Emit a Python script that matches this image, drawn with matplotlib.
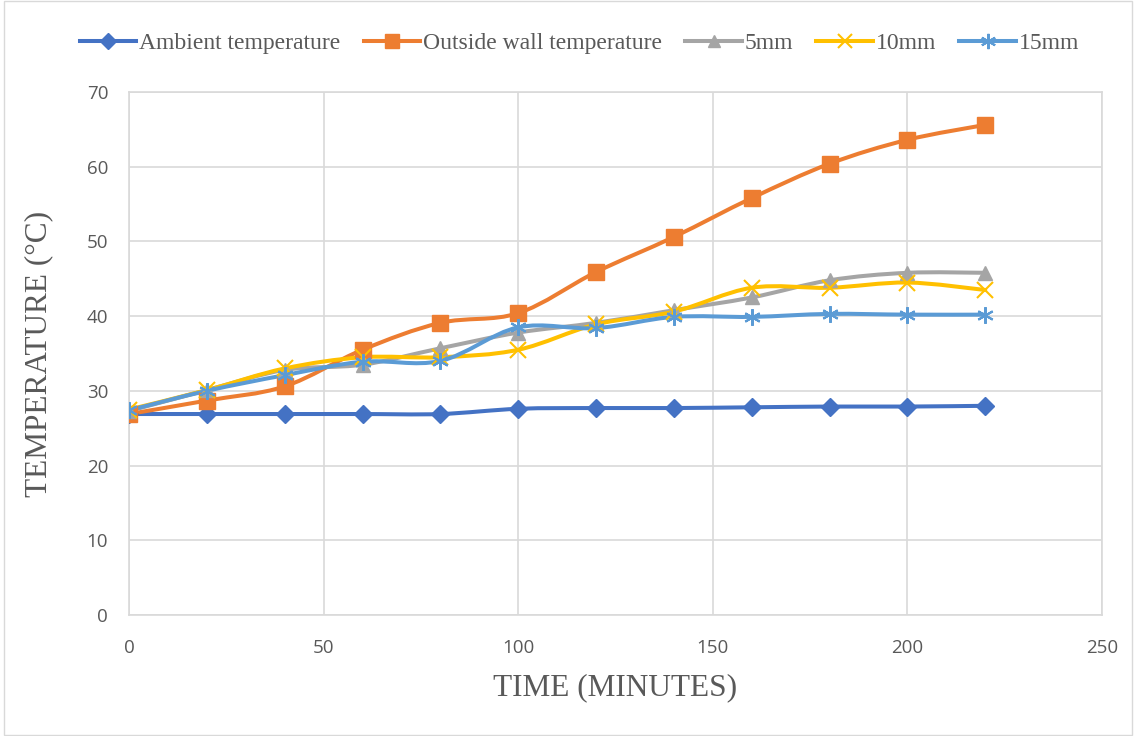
import numpy as np
import matplotlib.pyplot as plt
from matplotlib.path import Path
from matplotlib.patches import PathPatch, Rectangle
from matplotlib.lines import Line2D

# data
minutes = [0, 20, 40, 60, 80, 100, 120, 140, 160, 180, 200, 220]
ambient = [26.9, 26.9, 26.9, 26.9, 26.9, 27.6, 27.7, 27.7, 27.8, 27.9, 27.9, 28.0]
outside_wall = [26.9, 28.7, 30.6, 35.5, 39.1, 40.4, 45.9, 50.6, 55.8, 60.4, 63.6, 65.6]
mm5 = [27.3, 30.1, 32.8, 33.5, 35.7, 37.8, 39.1, 40.8, 42.5, 44.8, 45.8, 45.8]
mm10 = [27.5, 30.1, 33.0, 34.5, 34.5, 35.5, 38.9, 40.6, 43.8, 43.8, 44.5, 43.5]
mm15 = [27.4, 30.0, 32.1, 33.9, 34.0, 38.5, 38.4, 39.9, 39.9, 40.3, 40.2, 40.2]

names = ['Ambient temperature', 'Outside wall temperature', '5mm', '10mm', '15mm']
colors = ['#4472C4', '#ED7D31', '#A5A5A5', '#FFC000', '#5B9BD5']
markers = ['D', 's', '^', 'x', (6, 2, 0)]
msizes = [9, 11, 10, 11, 12]


def smooth_path(xs, ys):
    # Excel-like smoothed line: cubic bezier segments through the points
    pts = np.column_stack([xs, ys]).astype(float)
    verts = [pts[0]]
    codes = [Path.MOVETO]
    n = len(pts)
    for i in range(n - 1):
        p0 = pts[i - 1] if i > 0 else pts[i]
        p1 = pts[i]
        p2 = pts[i + 1]
        p3 = pts[i + 2] if i + 2 < n else pts[i + 1]
        c1 = p1 + (p2 - p0) / 6.0
        c2 = p2 - (p3 - p1) / 6.0
        verts += [c1, c2, p2]
        codes += [Path.CURVE4] * 3
    return Path(verts, codes)


fig = plt.figure(figsize=(11.36, 7.36), dpi=100)
ax = fig.add_axes([129 / 1136, 1 - 615 / 736, (1102 - 129) / 1136, (615 - 92) / 736])

series = [ambient, outside_wall, mm5, mm10, mm15]
handles = []
for ys, name, c, m, ms in zip(series, names, colors, markers, msizes):
    thin = m == 'x' or isinstance(m, tuple)
    patch = PathPatch(smooth_path(minutes, ys), facecolor='none', edgecolor=c,
                      lw=2.9, capstyle='round', joinstyle='round', zorder=3)
    ax.add_patch(patch)
    ax.plot(minutes, ys, ls='none', marker=m, ms=ms, color=c, mec=c,
            mew=1.5 if thin else 1, zorder=4)
    handles.append(Line2D([], [], color=c, lw=2.9, marker=m, ms=ms - 1,
                          mew=1.5 if thin else 1))

ax.set_xlim(0, 250)
ax.set_ylim(0, 70)
ax.set_xticks(range(0, 251, 50))
ax.set_yticks(range(0, 71, 10))
ax.grid(True, color='#D9D9D9', lw=1.2)
ax.set_axisbelow(True)
for s in ax.spines.values():
    s.set_color('#D9D9D9')
    s.set_linewidth(1.2)
ax.tick_params(length=0, labelsize=13.5, labelcolor='#595959')
ax.tick_params(axis='x', pad=17)
ax.tick_params(axis='y', pad=15)
for lab in ax.get_xticklabels() + ax.get_yticklabels():
    lab.set_fontfamily('Open Sans')

ax.set_xlabel('TIME (MINUTES)', fontsize=22.5, family='Liberation Serif', color='#595959', labelpad=12)
ax.set_ylabel('TEMPERATURE (°C)', fontsize=22.5, family='Liberation Serif', color='#595959', labelpad=24)

fig.legend(handles, names, loc='center', bbox_to_anchor=(0.51, 1 - 43 / 736), ncol=5,
           frameon=False, prop={'family': 'Liberation Serif', 'size': 17},
           labelcolor='#595959', handlelength=2.4, handletextpad=0.1, columnspacing=1.0)

fig.patches.append(Rectangle((4 / 1136, 0.002), 1 - 8 / 1136, 0.996, transform=fig.transFigure,
                             fill=False, edgecolor='#D9D9D9', lw=1))

fig.savefig('out.png', dpi=100)
